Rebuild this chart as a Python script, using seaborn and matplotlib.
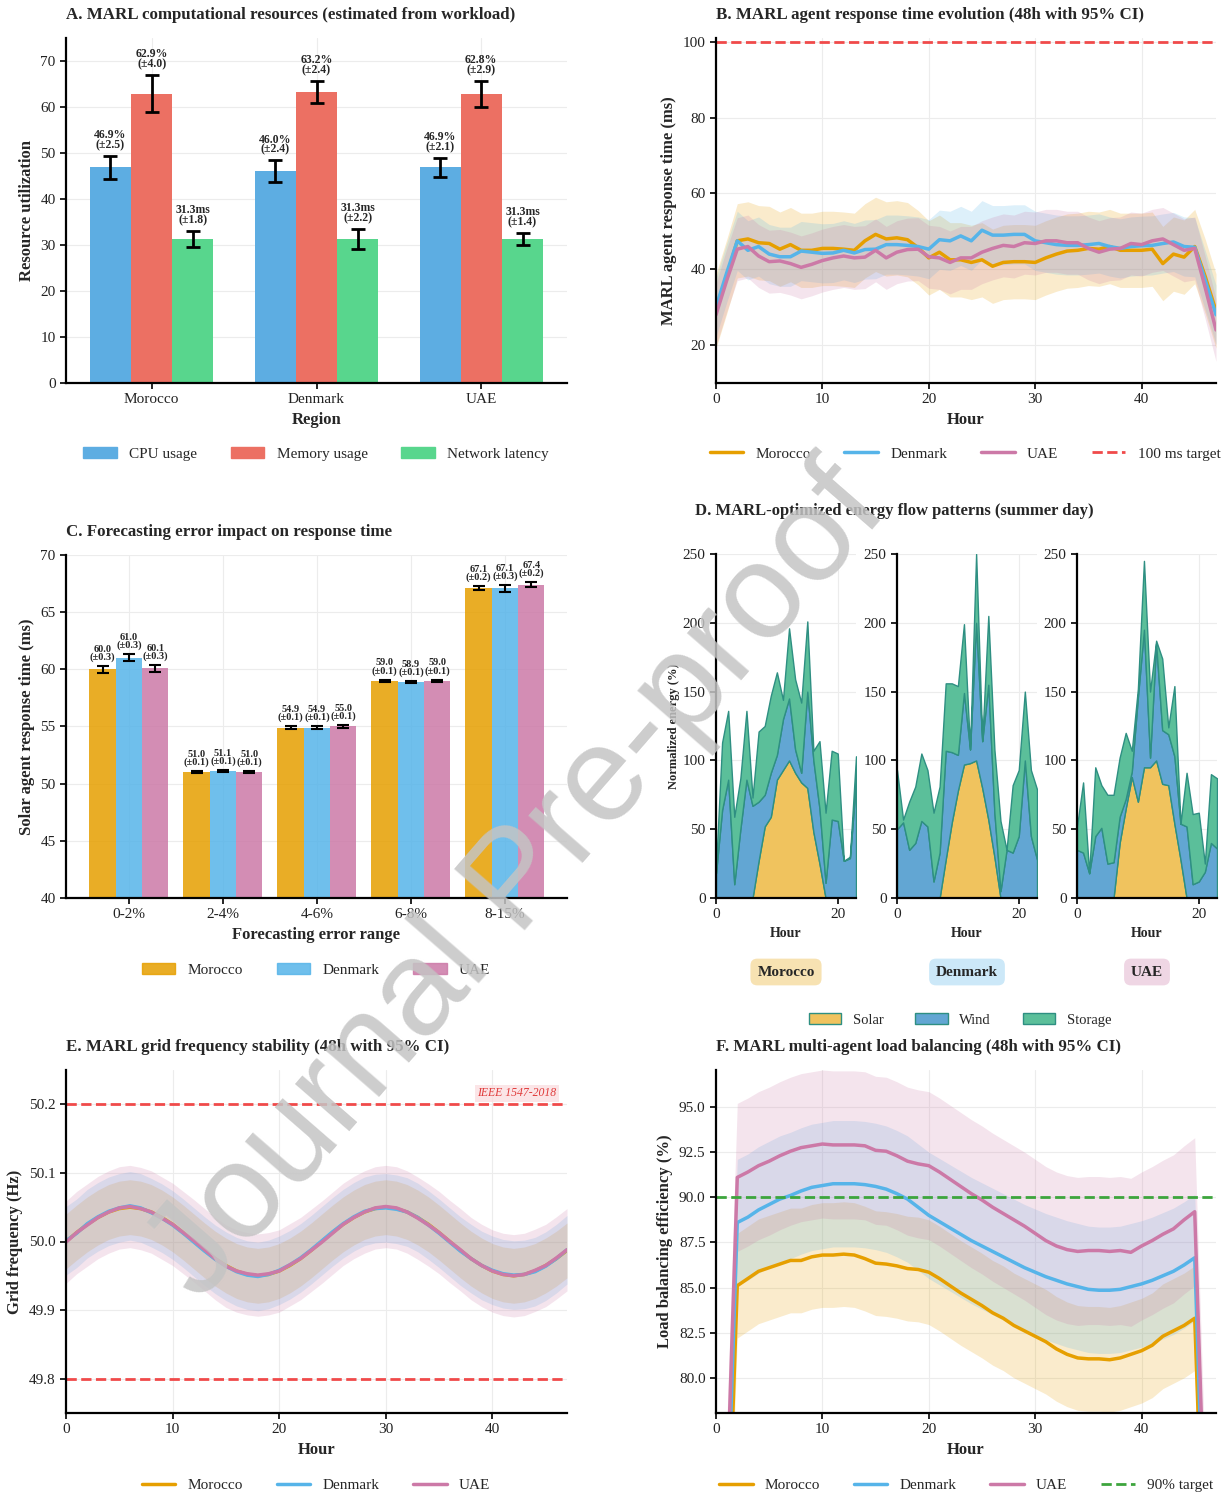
import numpy as np
import pandas as pd
import matplotlib
matplotlib.use("Agg")
import matplotlib.pyplot as plt
import seaborn as sns
from matplotlib.patches import Patch
from matplotlib.lines import Line2D
from matplotlib.container import BarContainer

# ---------------- data ----------------
countries = ["Morocco", "Denmark", "UAE"]
country_colors = ["#E69F00", "#56B4E9", "#CC79A7"]

# Panel A
regions = ["Morocco", "Denmark", "UAE"]
resource_names = ["CPU usage", "Memory usage", "Network latency"]
resource_colors = ["#5DADE2", "#EC7063", "#58D68D"]
resource_units = ["%", "%", "ms"]
cpu_usage = [46.9, 46.0, 46.9]
cpu_err = [2.5, 2.4, 2.1]
memory_usage = [62.9, 63.2, 62.8]
memory_err = [4.0, 2.4, 2.9]
network_latency = [31.3, 31.3, 31.3]
network_err = [1.8, 2.2, 1.4]

# Panel B (hourly response time, ms)
hours48 = list(range(48))
resp_morocco = [29, 38, 47.5, 48, 47, 46.8, 45.3, 46.5, 45, 45, 45.5, 45.5, 45.3, 45, 47.5, 49.2,
                48, 48.3, 47.8, 45.7, 43, 44.5, 42.5, 42.5, 41.8, 42.5, 40.8, 41.8, 42, 42, 41.8, 43,
                44, 44.8, 45, 45.5, 45.3, 46, 45, 45, 45, 45.3, 41.5, 44, 43.2, 46, 38, 29]
resp_denmark = [30, 39, 47.5, 45, 46, 44, 43.3, 43.3, 44.8, 44.5, 44.2, 44.3, 45, 44.3, 45.2, 45.3,
                46.5, 46.5, 46.3, 46, 45.3, 47.8, 47.5, 48.8, 47.5, 50.3, 49, 49, 49.2, 49.2, 47.5, 47,
                46.5, 46.3, 46.3, 46.5, 46.8, 46, 45.5, 46, 46.2, 46.3, 46.8, 47.2, 46, 45.8, 37, 28]
resp_uae = [28, 37, 45.3, 46, 43.5, 42, 42.2, 41.5, 40.5, 41.3, 42.3, 43, 43.5, 43, 43.2, 45,
            43, 44.5, 45.2, 45.3, 43.3, 43, 41.8, 43, 43, 44.5, 45.5, 46.3, 46, 47, 46.8, 47.5,
            47.5, 47, 47, 45.5, 44.5, 45.3, 45.5, 46.8, 46.5, 47.5, 48, 46.5, 45, 45.5, 35, 24]
resp_ci = [9.8, 7.8, 8.3]
resp_target = 100

# Panel C
error_ranges = ["0-2%", "2-4%", "4-6%", "6-8%", "8-15%"]
fc_morocco = [60.0, 51.0, 54.9, 59.0, 67.1]
fc_morocco_err = [0.3, 0.1, 0.1, 0.1, 0.2]
fc_denmark = [61.0, 51.1, 54.9, 58.9, 67.1]
fc_denmark_err = [0.3, 0.1, 0.1, 0.1, 0.3]
fc_uae = [60.1, 51.0, 55.0, 59.0, 67.4]
fc_uae_err = [0.3, 0.1, 0.1, 0.1, 0.2]

# Panel D (summer day, normalized energy %)
hours24 = list(range(24))
solar_morocco = [0, 0, 0, 0, 0, 0, 0, 27, 52, 59, 86, 93, 100, 91, 84, 80, 48, 25, 0, 0, 0, 0, 0, 0]
wind_morocco = [18, 64, 86, 10, 50, 86, 67, 43, 23, 32, 18, 37, 45, 17, 7, 70, 52, 40, 11, 57, 56, 27, 29, 85]
storage_morocco = [4, 49, 50, 49, 37, 50, 6, 51, 50, 56, 60, 14, 51, 51, 51, 51, 7, 49, 51, 50, 49, 0, 1, 18]
solar_denmark = [0, 0, 0, 0, 0, 0, 0, 0, 28, 55, 78, 97, 98, 100, 80, 57, 30, 0, 0, 0, 0, 0, 0, 0]
wind_denmark = [50, 55, 35, 40, 56, 52, 12, 33, 79, 51, 26, 52, 10, 100, 34, 98, 32, 5, 35, 33, 45, 100, 45, 28]
storage_denmark = [43, 2, 35, 41, 49, 41, 50, 48, 49, 50, 50, 50, 0, 50, 0, 50, 46, 51, 0, 49, 48, 50, 48, 51]
solar_uae = [0, 0, 0, 0, 0, 0, 0, 40, 65, 88, 70, 95, 95, 100, 83, 82, 54, 28, 0, 0, 0, 0, 0, 0]
wind_uae = [35, 33, 18, 45, 51, 25, 26, 19, 7, 4, 76, 100, 7, 85, 39, 37, 49, 26, 52, 10, 12, 19, 40, 36]
storage_uae = [17, 51, 0, 50, 31, 50, 49, 43, 48, 15, 6, 50, 48, 2, 52, 5, 51, 0, 39, 51, 50, 6, 50, 51]
energy_sources = ["Solar", "Wind", "Storage"]
energy_colors = ["#F0C35E", "#62A6D3", "#5BBF9A"]

# Panel E (grid frequency, Hz)
freq_morocco = [50.000, 50.013, 50.025, 50.035, 50.043, 50.048, 50.050, 50.048, 50.043, 50.035, 50.025, 50.013,
                50.000, 49.987, 49.975, 49.965, 49.957, 49.952, 49.950, 49.952, 49.957, 49.965, 49.975, 49.987,
                50.000, 50.013, 50.025, 50.035, 50.043, 50.048, 50.050, 50.048, 50.043, 50.035, 50.025, 50.013,
                50.000, 49.987, 49.975, 49.965, 49.957, 49.952, 49.950, 49.952, 49.957, 49.965, 49.975, 49.987]
freq_denmark = [50.001, 50.012, 50.026, 50.036, 50.044, 50.049, 50.052, 50.049, 50.042, 50.034, 50.024, 50.012,
                49.999, 49.986, 49.974, 49.964, 49.956, 49.951, 49.949, 49.952, 49.958, 49.966, 49.976, 49.988,
                50.001, 50.014, 50.026, 50.036, 50.044, 50.048, 50.049, 50.047, 50.043, 50.035, 50.024, 50.012,
                49.999, 49.986, 49.975, 49.965, 49.958, 49.953, 49.951, 49.952, 49.956, 49.964, 49.975, 49.988]
freq_uae = [49.999, 50.013, 50.024, 50.035, 50.043, 50.049, 50.051, 50.048, 50.043, 50.034, 50.025, 50.013,
            50.001, 49.988, 49.975, 49.964, 49.957, 49.953, 49.951, 49.953, 49.957, 49.966, 49.975, 49.987,
            49.999, 50.012, 50.025, 50.035, 50.043, 50.049, 50.051, 50.049, 50.043, 50.034, 50.024, 50.013,
            50.000, 49.988, 49.975, 49.965, 49.957, 49.952, 49.950, 49.952, 49.958, 49.965, 49.976, 49.988]
freq_ci = [0.04, 0.05, 0.06]
freq_limits = [50.2, 49.8]

# Panel F (load balancing efficiency, %)
lb_morocco = [51, 68, 85.1, 85.5, 85.9, 86.1, 86.3, 86.5, 86.5, 86.7, 86.8, 86.8, 86.85, 86.8, 86.6, 86.35,
              86.3, 86.2, 86.05, 86.0, 85.85, 85.5, 85.1, 84.7, 84.35, 84.0, 83.6, 83.3, 82.9, 82.6, 82.3, 82.0,
              81.6, 81.3, 81.1, 81.05, 81.05, 81.0, 81.1, 81.3, 81.5, 81.8, 82.3, 82.6, 82.9, 83.3, 66.6, 50]
lb_denmark = [53, 71, 88.6, 88.9, 89.3, 89.6, 89.9, 90.1, 90.35, 90.55, 90.65, 90.75, 90.75, 90.75, 90.7, 90.6,
              90.45, 90.2, 89.9, 89.45, 89.0, 88.65, 88.3, 87.95, 87.6, 87.3, 87.0, 86.7, 86.4, 86.1, 85.85, 85.6,
              85.4, 85.2, 85.05, 84.9, 84.85, 84.85, 84.9, 85.05, 85.2, 85.4, 85.65, 85.9, 86.25, 86.65, 69, 52]
lb_uae = [55, 73, 91.1, 91.4, 91.75, 92.0, 92.3, 92.55, 92.75, 92.85, 92.95, 92.9, 92.9, 92.9, 92.85, 92.6,
          92.55, 92.3, 92.0, 91.85, 91.75, 91.4, 91.0, 90.6, 90.2, 89.85, 89.45, 89.1, 88.75, 88.4, 88.0, 87.6,
          87.3, 87.1, 87.0, 87.05, 87.05, 87.0, 87.05, 86.95, 87.3, 87.6, 87.95, 88.25, 88.75, 89.2, 71, 54]
lb_ci = [2.9, 3.5, 4.1]
lb_target = 90

# ---------------- style ----------------
sns.set_theme(style="ticks")
plt.rcParams["font.family"] = ["Liberation Serif", "DejaVu Serif"]
plt.rcParams["axes.edgecolor"] = "black"

W, H = 1226, 1496
fig = plt.figure(figsize=(W / 100, H / 100), dpi=100)


def rect(l, t, r, b):
    return [l / W, 1 - b / H, (r - l) / W, (b - t) / H]


def style(ax, labelsize=11):
    sns.despine(ax=ax)
    for s in ("left", "bottom"):
        ax.spines[s].set_linewidth(1.6)
        ax.spines[s].set_color("black")
    ax.grid(True, color="#ececec", lw=0.8)
    ax.set_axisbelow(True)
    ax.tick_params(labelsize=labelsize, length=4, width=1.2, color="black", labelcolor="#222222")


def bar_containers(ax):
    return [c for c in list(ax.containers) if isinstance(c, BarContainer)]


TITLE_KW = dict(fontsize=12.2, fontweight="bold", loc="left", pad=14)
LAB_KW = dict(fontsize=12, fontweight="bold")

# ---------------- Panel A ----------------
axA = fig.add_axes(rect(66, 38, 567, 383))
valsA = [cpu_usage, memory_usage, network_latency]
errsA = [cpu_err, memory_err, network_err]
dfA = pd.DataFrame({
    "Region": regions * 3,
    "metric": [n for n in resource_names for _ in regions],
    "value": cpu_usage + memory_usage + network_latency,
})
sns.barplot(data=dfA, x="Region", y="value", hue="metric", hue_order=resource_names,
            palette=resource_colors, width=0.75, saturation=1, errorbar=None, legend=False,
            ax=axA, linewidth=0)
for k, cont in enumerate(bar_containers(axA)):
    for j, bar in enumerate(cont):
        x = bar.get_x() + bar.get_width() / 2
        v, e = valsA[k][j], errsA[k][j]
        axA.errorbar(x, v, yerr=e, color="black", lw=2, capsize=5, capthick=2, zorder=5)
        axA.text(x, v + e + 1.0, f"{v:.1f}{resource_units[k]}\n(±{e:.1f})", ha="center",
                 va="bottom", fontsize=8.5, fontweight="bold", linespacing=0.8)
axA.set_ylim(0, 75)
axA.set_xlim(-0.52, 2.52)
axA.set_yticks(range(0, 71, 10))
style(axA)
axA.set_xlabel("Region", labelpad=4, **LAB_KW)
axA.set_ylabel("Resource utilization", **LAB_KW)
axA.set_title("A. MARL computational resources (estimated from workload)", **TITLE_KW)
fig.legend(handles=[Patch(color=c, label=n) for c, n in zip(resource_colors, resource_names)],
           loc="center", bbox_to_anchor=(316 / W, 1 - 454 / H), ncol=3, frameon=False,
           fontsize=11, handlelength=2.2, columnspacing=2.2)

# ---------------- Panel B ----------------
axB = fig.add_axes(rect(716, 38, 1216, 383))
resp_series = [resp_morocco, resp_denmark, resp_uae]
dfB = pd.DataFrame({
    "Hour": hours48 * 3,
    "value": resp_morocco + resp_denmark + resp_uae,
    "country": [c for c in countries for _ in hours48],
})
for i, c in enumerate(countries):
    y = np.array(resp_series[i])
    axB.fill_between(hours48, y - resp_ci[i], y + resp_ci[i], color=country_colors[i], alpha=0.2, lw=0)
sns.lineplot(data=dfB, x="Hour", y="value", hue="country", hue_order=countries,
             palette=country_colors, lw=2.5, legend=False, errorbar=None, ax=axB)
axB.axhline(resp_target, color="#F04A4A", ls="--", lw=2)
axB.set_xlim(0, 47)
axB.set_ylim(10, 101)
axB.set_yticks([20, 40, 60, 80, 100])
axB.set_xticks([0, 10, 20, 30, 40])
style(axB)
axB.set_xlabel("Hour", **LAB_KW)
axB.set_ylabel("MARL agent response time (ms)", **LAB_KW)
axB.set_title("B. MARL agent response time evolution (48h with 95% CI)", **TITLE_KW)
hB = [Line2D([], [], color=c, lw=2.5, label=n) for c, n in zip(country_colors, countries)]
hB.append(Line2D([], [], color="#F04A4A", lw=2, ls="--", label="100 ms target"))
fig.legend(handles=hB, loc="center", bbox_to_anchor=(965 / W, 1 - 454 / H), ncol=4,
           frameon=False, fontsize=11, handlelength=2.2, columnspacing=2.2)

# ---------------- Panel C ----------------
axC = fig.add_axes(rect(66, 555, 567, 898))
valsC = [fc_morocco, fc_denmark, fc_uae]
errsC = [fc_morocco_err, fc_denmark_err, fc_uae_err]
dfC = pd.DataFrame({
    "range": error_ranges * 3,
    "country": [c for c in countries for _ in error_ranges],
    "value": fc_morocco + fc_denmark + fc_uae,
})
sns.barplot(data=dfC, x="range", y="value", hue="country", hue_order=countries,
            palette=country_colors, width=0.84, saturation=1, errorbar=None, legend=False,
            ax=axC, alpha=0.85, linewidth=0)
for k, cont in enumerate(bar_containers(axC)):
    for j, bar in enumerate(cont):
        x = bar.get_x() + bar.get_width() / 2
        v, e = valsC[k][j], errsC[k][j]
        axC.errorbar(x, v, yerr=e, color="black", lw=1.5, capsize=4, capthick=1.5, zorder=5)
        axC.text(x, v + e + 0.35, f"{v:.1f}\n(±{e:.1f})", ha="center", va="bottom",
                 fontsize=7.5, fontweight="bold", linespacing=0.8)
axC.set_ylim(40, 70)
axC.set_xlim(-0.67, 4.66)
style(axC)
axC.set_xlabel("Forecasting error range", **LAB_KW)
axC.set_ylabel("Solar agent response time (ms)", **LAB_KW)
axC.set_title("C. Forecasting error impact on response time", **TITLE_KW)
fig.legend(handles=[Patch(color=c, alpha=0.85, label=n) for c, n in zip(country_colors, countries)],
           loc="center", bbox_to_anchor=(316 / W, 1 - 970 / H), ncol=3, frameon=False,
           fontsize=11, handlelength=2.2, columnspacing=2.2)

# ---------------- Panel D ----------------
solar_all = [solar_morocco, solar_denmark, solar_uae]
wind_all = [wind_morocco, wind_denmark, wind_uae]
storage_all = [storage_morocco, storage_denmark, storage_uae]
d_lefts = [716, 897, 1077]
for i, c in enumerate(countries):
    ax = fig.add_axes(rect(d_lefts[i], 554, d_lefts[i] + 140, 898))
    ax.stackplot(hours24, solar_all[i], wind_all[i], storage_all[i], colors=energy_colors,
                 edgecolor="#2E8F82", linewidth=1.0)
    ax.set_xlim(0, 23)
    ax.set_ylim(0, 250)
    ax.set_xticks([0, 20])
    ax.set_yticks([0, 50, 100, 150, 200, 250])
    style(ax)
    ax.set_xlabel("Hour", fontsize=10, fontweight="bold")
    if i == 0:
        ax.set_ylabel("Normalized energy (%)", fontsize=9, fontweight="bold", labelpad=2)
    fig.text((d_lefts[i] + 70) / W, 1 - 972 / H, c, ha="center", va="center", fontsize=11,
             fontweight="bold",
             bbox=dict(boxstyle="round,pad=0.45", fc=country_colors[i], alpha=0.3, ec="none"))
fig.text(695 / W, 1 - 511 / H, "D. MARL-optimized energy flow patterns (summer day)",
         ha="left", va="center", fontsize=12, fontweight="bold")
fig.legend(handles=[Patch(fc=c, ec="#2E8F82", label=n) for c, n in zip(energy_colors, energy_sources)],
           loc="center", bbox_to_anchor=(960 / W, 1 - 1020 / H), ncol=3, frameon=False,
           fontsize=10.5, handlelength=2.2, columnspacing=2.2)

# ---------------- Panel E ----------------
axE = fig.add_axes(rect(66, 1070, 567, 1413))
freq_series = [freq_morocco, freq_denmark, freq_uae]
dfE = pd.DataFrame({
    "Hour": hours48 * 3,
    "value": freq_morocco + freq_denmark + freq_uae,
    "country": [c for c in countries for _ in hours48],
})
for i, c in enumerate(countries):
    y = np.array(freq_series[i])
    axE.fill_between(hours48, y - freq_ci[i], y + freq_ci[i], color=country_colors[i], alpha=0.2, lw=0)
sns.lineplot(data=dfE, x="Hour", y="value", hue="country", hue_order=countries,
             palette=country_colors, lw=2.5, legend=False, errorbar=None, ax=axE)
for lim in freq_limits:
    axE.axhline(lim, color="#F04A4A", ls="--", lw=2)
axE.text(46, 50.216, "IEEE 1547-2018", ha="right", va="center", fontsize=8.5, style="italic",
         color="#E03A3A", bbox=dict(boxstyle="square,pad=0.2", fc="#FADADD", ec="none", alpha=0.7))
axE.set_xlim(0, 47)
axE.set_ylim(49.75, 50.25)
axE.set_yticks([49.8, 49.9, 50.0, 50.1, 50.2])
axE.yaxis.set_major_formatter(matplotlib.ticker.FormatStrFormatter("%.1f"))
axE.set_xticks([0, 10, 20, 30, 40])
style(axE)
axE.set_xlabel("Hour", **LAB_KW)
axE.set_ylabel("Grid frequency (Hz)", **LAB_KW)
axE.set_title("E. MARL grid frequency stability (48h with 95% CI)", **TITLE_KW)
fig.legend(handles=[Line2D([], [], color=c, lw=2.5, label=n) for c, n in zip(country_colors, countries)],
           loc="center", bbox_to_anchor=(316 / W, 1 - 1485 / H), ncol=3, frameon=False,
           fontsize=11, handlelength=2.2, columnspacing=2.2)

# ---------------- Panel F ----------------
axF = fig.add_axes(rect(716, 1070, 1216, 1413))
lb_series = [lb_morocco, lb_denmark, lb_uae]
dfF = pd.DataFrame({
    "Hour": hours48 * 3,
    "value": lb_morocco + lb_denmark + lb_uae,
    "country": [c for c in countries for _ in hours48],
})
for i, c in enumerate(countries):
    y = np.array(lb_series[i])
    axF.fill_between(hours48, y - lb_ci[i], y + lb_ci[i], color=country_colors[i], alpha=0.2, lw=0)
sns.lineplot(data=dfF, x="Hour", y="value", hue="country", hue_order=countries,
             palette=country_colors, lw=2.5, legend=False, errorbar=None, ax=axF)
axF.axhline(lb_target, color="#3DA53D", ls="--", lw=2)
axF.set_xlim(0, 47)
axF.set_ylim(78.05, 97.05)
axF.set_yticks([80, 82.5, 85, 87.5, 90, 92.5, 95])
axF.yaxis.set_major_formatter(matplotlib.ticker.FormatStrFormatter("%.1f"))
axF.set_xticks([0, 10, 20, 30, 40])
style(axF)
axF.set_xlabel("Hour", **LAB_KW)
axF.set_ylabel("Load balancing efficiency (%)", **LAB_KW)
axF.set_title("F. MARL multi-agent load balancing (48h with 95% CI)", **TITLE_KW)
hF = [Line2D([], [], color=c, lw=2.5, label=n) for c, n in zip(country_colors, countries)]
hF.append(Line2D([], [], color="#3DA53D", lw=2, ls="--", label="90% target"))
fig.legend(handles=hF, loc="center", bbox_to_anchor=(966 / W, 1 - 1485 / H), ncol=4,
           frameon=False, fontsize=11, handlelength=2.2, columnspacing=2.2)

# ---------------- watermark ----------------
fig.text(518 / W, 1 - 884 / H, "Journal Pre-proof", rotation=49, fontsize=98, color="#c4c4c4",
         alpha=0.85, ha="center", va="center", family=["Liberation Sans", "DejaVu Sans"],
         rotation_mode="anchor", zorder=50)

fig.savefig("out.png", dpi=100)
